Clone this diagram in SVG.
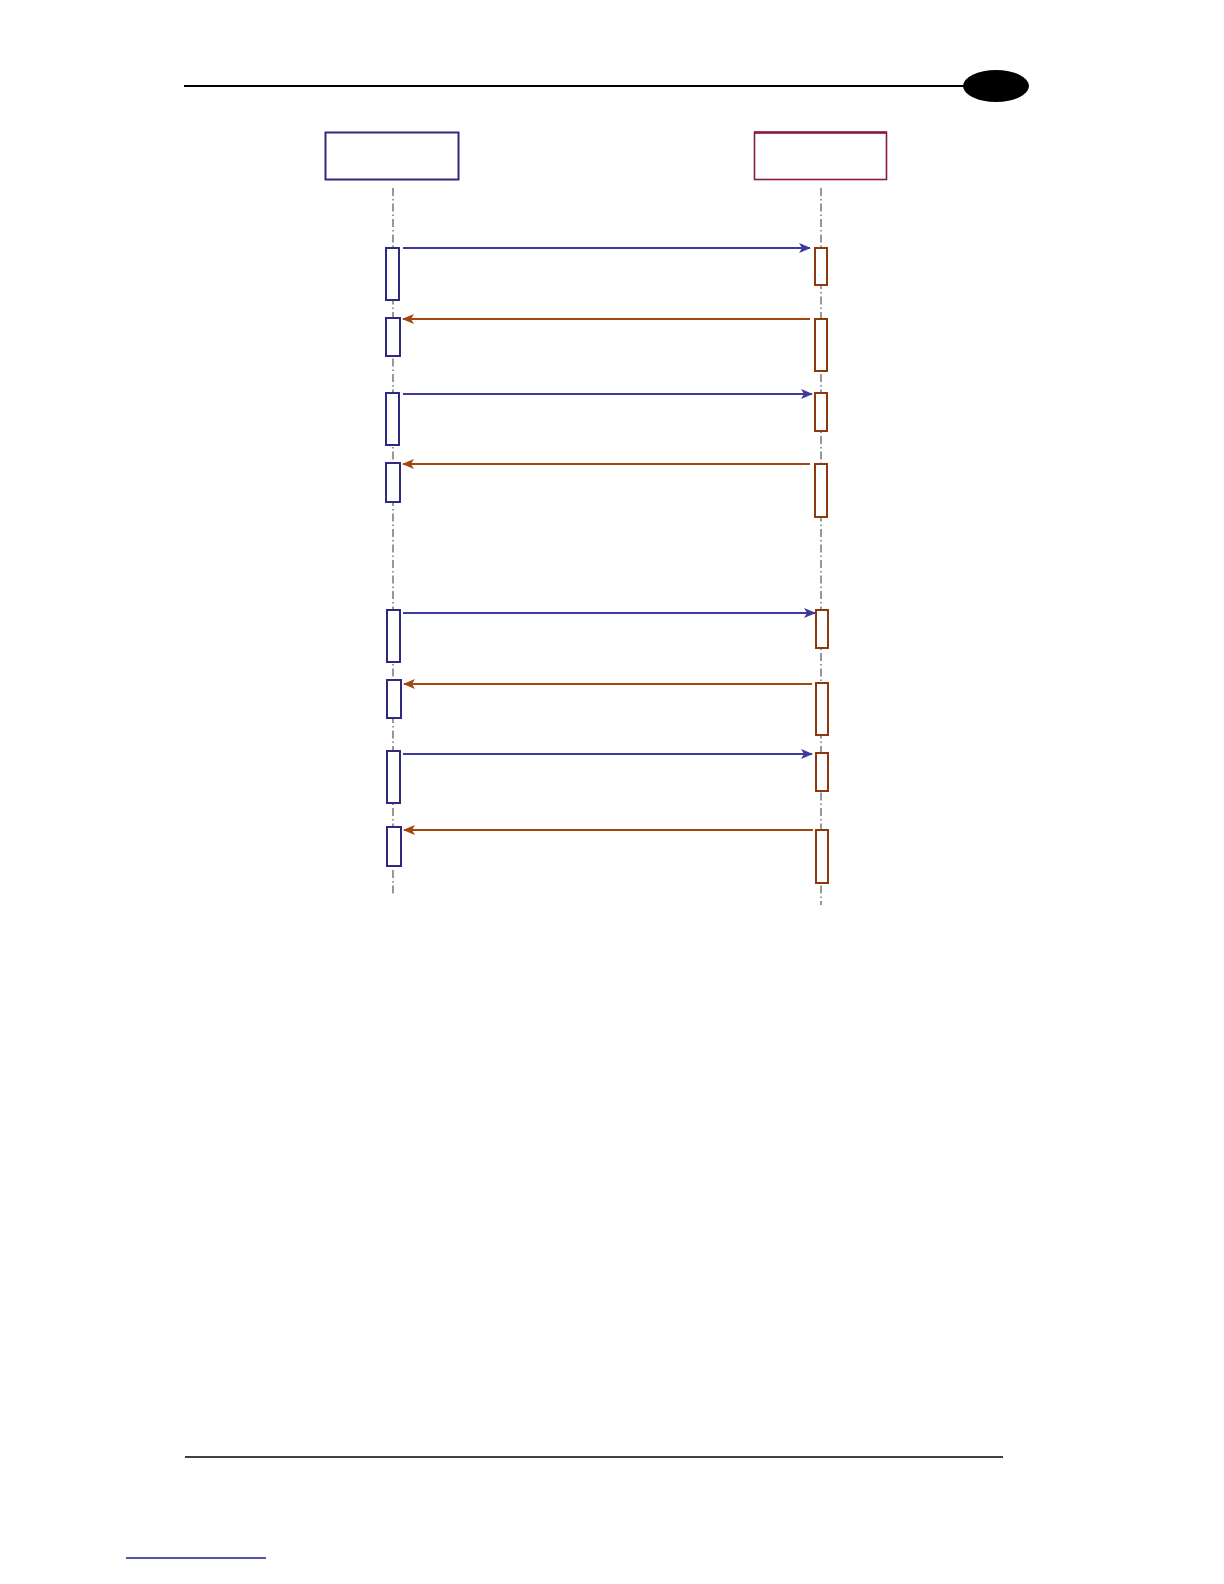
<svg xmlns="http://www.w3.org/2000/svg" width="1224" height="1584" viewBox="0 0 1224 1584">
<style>
.life{stroke:#555;stroke-width:1.2;stroke-dasharray:8,3,1.5,3;fill:none}
.actL{fill:#fff;stroke:#2e2a7e;stroke-width:2}
.actR{fill:#fff;stroke:#8a3a0c;stroke-width:2}
.req{stroke:#3c3a9c;stroke-width:2;fill:none;marker-end:url(#ab)}
.rsp{stroke:#a4460e;stroke-width:2;fill:none;marker-end:url(#ar)}
</style>
<defs>
<marker id="ab" viewBox="0 0 12 10" refX="11" refY="5" markerWidth="12" markerHeight="10" markerUnits="userSpaceOnUse" orient="auto">
<path d="M0,0 L12,5 L0,10 L3,5 z" fill="#3c3a9c"/>
</marker>
<marker id="ar" viewBox="0 0 12 10" refX="11" refY="5" markerWidth="12" markerHeight="10" markerUnits="userSpaceOnUse" orient="auto">
<path d="M0,0 L12,5 L0,10 L3,5 z" fill="#a4460e"/>
</marker>
</defs>
<rect width="1224" height="1584" fill="#fff"/>
<g id="header">
<line x1="184" y1="86" x2="970" y2="86" stroke="#000" stroke-width="2.2"/>
<ellipse cx="996" cy="86" rx="33" ry="16" fill="#000"/>
</g>
<g id="participant-left">
<rect x="325.5" y="132.5" width="133" height="47" fill="#fff" stroke="#2e2a7e" stroke-width="2"/>
</g>
<g id="participant-right">
<rect x="754.5" y="132.5" width="132" height="47" fill="#fff" stroke="#8b1a40" stroke-width="1.6"/>
<line x1="754" y1="132.5" x2="887" y2="132.5" stroke="#8b1a40" stroke-width="2.4"/>
</g>
<g id="lifelines">
<line class="life" x1="393" y1="188" x2="393" y2="895"/>
<line class="life" x1="821" y1="188" x2="821" y2="905"/>
</g>
<g id="activations-left">
<rect class="actL" x="386" y="248" width="13" height="52"/>
<rect class="actL" x="386" y="318" width="14" height="38"/>
<rect class="actL" x="386" y="393" width="13" height="52"/>
<rect class="actL" x="386" y="463" width="14" height="39"/>
<rect class="actL" x="387" y="610" width="13" height="52"/>
<rect class="actL" x="387" y="680" width="14" height="38"/>
<rect class="actL" x="387" y="751" width="13" height="52"/>
<rect class="actL" x="387" y="827" width="14" height="39"/>
</g>
<g id="activations-right">
<rect class="actR" x="815" y="248" width="12" height="37"/>
<rect class="actR" x="815" y="319" width="12" height="52"/>
<rect class="actR" x="815" y="393" width="12" height="38"/>
<rect class="actR" x="815" y="464" width="12" height="53"/>
<rect class="actR" x="816" y="610" width="12" height="38"/>
<rect class="actR" x="816" y="683" width="12" height="52"/>
<rect class="actR" x="816" y="753" width="12" height="38"/>
<rect class="actR" x="816" y="830" width="12" height="53"/>
</g>
<g id="connectors">
<line class="req" x1="403" y1="248" x2="810" y2="248"/>
<line class="rsp" x1="810" y1="319" x2="403" y2="319"/>
<line class="req" x1="403" y1="394" x2="812" y2="394"/>
<line class="rsp" x1="810" y1="464" x2="403" y2="464"/>
<line class="req" x1="403" y1="613" x2="815" y2="613"/>
<line class="rsp" x1="812" y1="684" x2="404" y2="684"/>
<line class="req" x1="403" y1="754" x2="812" y2="754"/>
<line class="rsp" x1="813" y1="830" x2="404" y2="830"/>
</g>
<g id="footer">
<line x1="185" y1="1457" x2="1003" y2="1457" stroke="#000" stroke-width="1.5"/>
<line x1="126" y1="1558" x2="266" y2="1558" stroke="#1a1a9a" stroke-width="1.5"/>
</g>
</svg>
